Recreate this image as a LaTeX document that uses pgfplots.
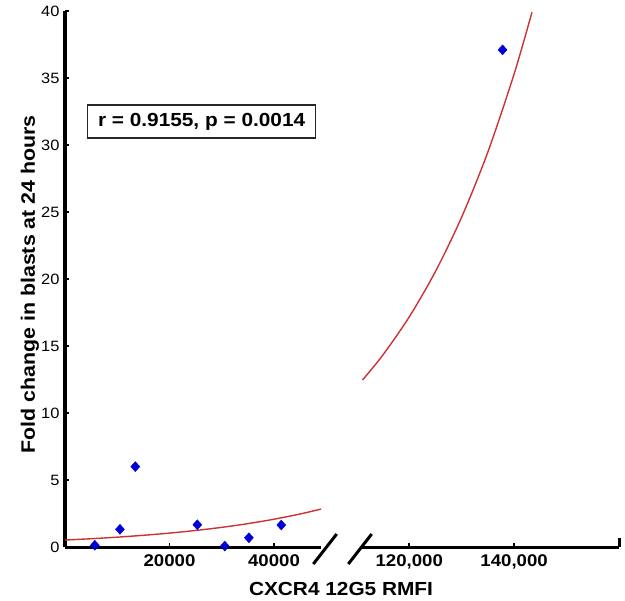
\documentclass[border=0pt]{standalone}
\usepackage{pgfplots}
\pgfplotsset{compat=1.18}
\usepackage{fontspec}
\setmainfont{Liberation Sans}[FakeStretch=1.1]
\definecolor{ptblue}{RGB}{0,0,215}
\definecolor{fitred}{RGB}{205,50,50}
\begin{document}
\begin{tikzpicture}
\useasboundingbox (0,0) rectangle (625bp,-601bp);
\pgfplotsset{
  common/.style={
    scale only axis, width=256bp, height=536bp,
    ymin=0, ymax=40,
    axis x line*=bottom,
    axis line style={line width=3bp, black},
    tick style={black, line width=1.5bp},
    major tick length=4bp, tick align=inside,
    scaled x ticks=false,
    /pgf/number format/assume math mode=true,
    xticklabel style={font=\fontsize{17}{17}\selectfont\bfseries, yshift=-4bp},
    clip=false,
  }
}
\begin{axis}[common,
  at={(65bp,-547bp)}, anchor=south west,
  xmin=0, xmax=49000,
  axis y line*=left,
  xtick={20000,40000}, xticklabels={20000,40000},
  ytick={0,5,...,40},
  yticklabel style={font=\fontsize{15}{15}\selectfont, xshift=-2bp},
  ylabel={\bfseries Fold change in blasts at 24 hours},
  ylabel style={font=\fontsize{19.5}{19.5}\selectfont, at={(axis description cs:-0.137,0.49)}, anchor=center},
]
\addplot[fitred, line width=1.4bp, smooth] coordinates {
 (0,0.52) (5000,0.618) (10000,0.735) (15000,0.873) (20000,1.038) (25000,1.234)
 (30000,1.467) (35000,1.744) (40000,2.073) (45000,2.464) (49000,2.829)};
\addplot[only marks, mark=diamond*, mark size=5bp, mark options={xscale=1.2}, color=ptblue] coordinates {
 (5710,0.13) (10520,1.32) (13460,6.0) (25330,1.66) (30580,0.07) (35200,0.69) (41400,1.64)};
\node[draw=black!85, line width=1.3bp, minimum width=228bp, minimum height=33bp, inner sep=0pt,
  font=\fontsize{19}{19}\selectfont\bfseries] at (axis cs:26150,31.75) {r = 0.9155, p = 0.0014};
\end{axis}
\begin{axis}[common,
  at={(362bp,-547bp)}, anchor=south west, width=257bp,
  xmin=111000, xmax=160000,
  axis y line=none, ytick=\empty,
  xtick={120000,140000}, xticklabels={{120,000},{140,000}},
  extra x ticks={160000}, extra x tick labels={},
  extra x tick style={major tick length=9bp, tick style={line width=3bp}},
]
\addplot[fitred, line width=1.4bp, smooth] coordinates {
 (111100,12.46) (115000,14.34) (120000,17.17) (125000,20.56) (130000,24.62)
 (135000,29.48) (140000,35.30) (143400,39.90)};
\addplot[only marks, mark=diamond*, mark size=5bp, mark options={xscale=1.2}, color=ptblue] coordinates {
 (137800,37.1)};
\end{axis}
\draw[line width=3bp] (313.3bp,-564bp) -- (336.7bp,-534bp);
\draw[line width=3bp] (348.3bp,-564bp) -- (371.7bp,-534bp);
\node[font=\fontsize{19}{19}\selectfont\bfseries] at (341bp,-588.5bp) {CXCR4 12G5 RMFI};
\end{tikzpicture}
\end{document}
